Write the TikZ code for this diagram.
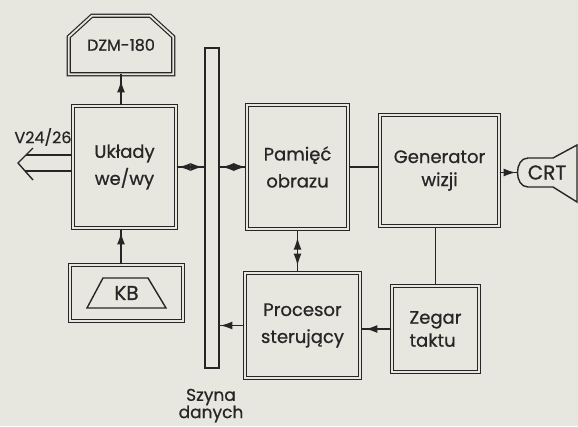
\documentclass[tikz,border=0pt]{standalone}
\usepackage{fontspec}
\setmainfont{Poppins}[UprightFeatures={FakeBold=0.7}]
\usetikzlibrary{arrows.meta,calc}
\definecolor{paper}{RGB}{231,231,223}
\definecolor{ink}{RGB}{38,38,38}
\tikzset{
  inkline/.style={draw=ink, line width=1.4pt},
  tip/.style={draw=ink, fill=ink, line width=1.4pt, -{Latex[length=12pt,width=8pt]}},
  blk/.style={draw=ink, line width=1.2pt, double=paper, double distance=1.8pt,
    inner sep=0pt, text=ink, align=center, font=\fontsize{18}{27}\selectfont},
  ghost/.style={inner sep=0pt, text=ink, font=\fontsize{16}{26}\selectfont},
  lbl/.style={inner sep=0pt, text=ink, font=\fontsize{17}{18}\selectfont},
}
\begin{document}
\begin{tikzpicture}[x=1pt,y=-1pt]
\fill[paper] (0,0) rectangle (578,426);
\useasboundingbox (0,0) rectangle (578,426);

% blocks
\node[blk, minimum width=103pt, minimum height=122pt] (uk) at (124.5,167) {Układy\\we/wy};
\node[blk, minimum width=101pt, minimum height=124pt] (pam) at (297.5,167) {Pamięć\\obrazu};
\node[blk, minimum width=119pt, minimum height=111pt, font=\fontsize{18}{23}\selectfont] (gen) at (439.5,170.5) {Generator\\wizji};
\node[blk, minimum width=115pt, minimum height=105pt] (proc) at (302.5,325.5) {Procesor\\sterujący};
\node[blk, minimum width=87pt, minimum height=86pt, align=left, font=\fontsize{18}{23}\selectfont] (zeg) at (435.5,329) {Zegar\\taktu};
\node[blk, minimum width=113pt, minimum height=56pt] (kb) at (126.5,293) {};
\node[draw=ink, line width=1.5pt, fill=paper, minimum width=14pt, minimum height=320pt, inner sep=0pt] (bus) at (212,208) {};

% DZM-180 display
\node[ghost, minimum width=104pt, minimum height=58pt] (dzm) at (121,45) {DZM-180};
\draw[blk] (dzm.south west) -- ([yshift=-21pt]dzm.north west) -- ([xshift=23pt]dzm.north west)
  -- ([xshift=-23pt]dzm.north east) -- ([yshift=-21pt]dzm.north east) -- (dzm.south east) -- cycle;

% keyboard
\draw[inkline, shift={(kb.center)}] (-39.5,15) -- (-23.5,-15) -- (21.5,-15) -- (39.5,15) -- cycle;
\node[ghost, font=\fontsize{20}{24}\selectfont] (kbt) at (kb.center) {KB};

% CRT
\node[ghost, minimum width=60pt, minimum height=59pt, font=\fontsize{20}{24}\selectfont] (crt) at (547,172.5) {CRT};
\draw[inkline, shift={(crt.center)}] (30,-27.5) -- (6,-14.5) -- (-19,-14.5)
  .. controls (-33,-14.5) and (-33,14.5) .. (-19,14.5) -- (6,14.5) -- (30,29.5) -- cycle;

% labels
\node[lbl, font=\fontsize{16}{18}\selectfont] (v24) at (43,137) {V24/26};
\node[lbl] (szyna) at (211,397) {Szyna};
\node[lbl] (danych) at (211,414) {danych};

% V24/26 hollow arrow
\coordinate (vtip) at (18,163);
\coordinate (vup) at (33,148);
\coordinate (vdn) at (33,180);
\coordinate (vs1) at (26,155);
\coordinate (vs2) at (25,171);
\draw[inkline] (vup) -- (vtip) -- (vdn);
\draw[inkline] (vs1) -- (vs1 -| uk.west);
\draw[inkline] (vs2) -- (vs2 -| uk.west);

% connector end points
\coordinate (ukN) at (uk.north -| dzm.south);
\coordinate (kbN) at (kb.north -| dzm.south);
\coordinate (ukS) at (uk.south -| dzm.south);
\coordinate (busW) at (uk.east -| bus.west);
\coordinate (busE) at (bus.east |- pam.west);
\coordinate (genE) at (gen.east |- crt.west);
\coordinate (procN) at (pam.south |- proc.north);
\coordinate (busE2) at (proc.west -| bus.east);

% connectors
\draw[inkline] (ukN) -- (dzm.south);
\draw[tip] (ukN) -- ($(ukN)!25pt!(dzm.south)$);
\draw[inkline] (kbN) -- (ukS);
\draw[tip] (kbN) -- ($(kbN)!32pt!(ukS)$);
\draw[inkline] (uk.east) -- (busW);
\draw[tip] ($(uk.east)!14pt!(busW)$) -- ($(uk.east)!2pt!(busW)$);
\draw[tip] (uk.east) -- ($(uk.east)!26pt!(busW)$);
\draw[inkline] (busE) -- (pam.west);
\draw[tip] ($(busE)!14pt!(pam.west)$) -- ($(busE)!2pt!(pam.west)$);
\draw[tip] (busE) -- ($(busE)!26pt!(pam.west)$);
\draw[inkline] (pam.east) -- (pam.east -| gen.west);
\draw[inkline] (genE) -- (crt.west);
\draw[tip] (genE) -- ($(genE)!16pt!(crt.west)$);
\draw[inkline] (pam.south) -- (procN);
\draw[tip] ($(pam.south)!22pt!(procN)$) -- ($(pam.south)!8pt!(procN)$);
\draw[tip] ($(pam.south)!22pt!(procN)$) -- ($(pam.south)!36pt!(procN)$);
\draw[inkline] (zeg.north) -- (zeg.north |- gen.south);
\draw[inkline] (zeg.west) -- (zeg.west -| proc.east);
\draw[tip] (zeg.west) -- ($(zeg.west)!26pt!(zeg.west -| proc.east)$);
\draw[inkline] (proc.west) -- (busE2);
\draw[tip] (proc.west) -- ($(proc.west)!24pt!(busE2)$);
\end{tikzpicture}
\end{document}
